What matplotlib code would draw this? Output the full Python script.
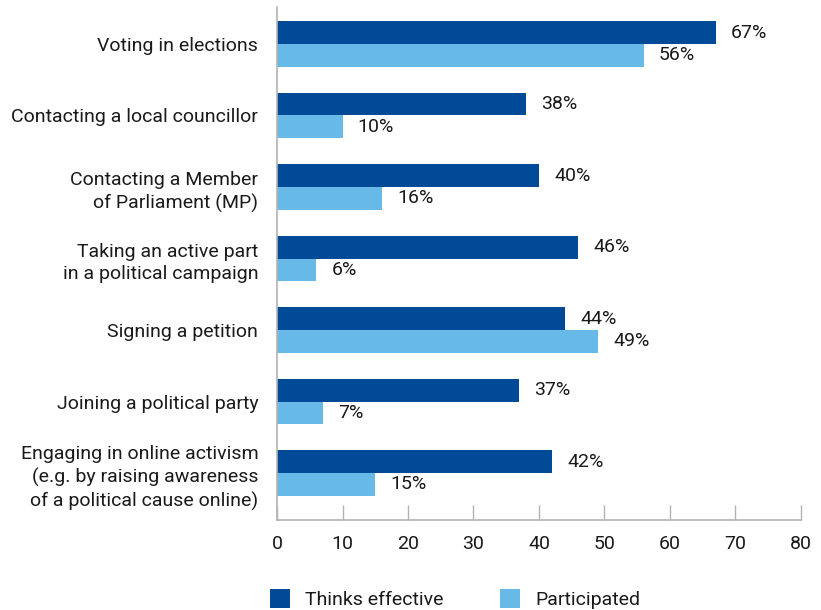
import matplotlib.pyplot as plt
import numpy as np

plt.rcParams['font.family'] = ['Roboto', 'DejaVu Sans']

activities = ["Voting in elections",
              "Contacting a local councillor",
              "Contacting a Member\nof Parliament (MP)",
              "Taking an active part\nin a political campaign",
              "Signing a petition",
              "Joining a political party",
              "Engaging in online activism\n(e.g. by raising awareness\nof a political cause online)"]
thinks_effective = [67, 38, 40, 46, 44, 37, 42]
participated = [56, 10, 16, 6, 49, 7, 15]

dark = '#004a98'
light = '#67b9e8'
grey = '#b3b3b3'
txt = '#1a1a1a'

fig = plt.figure(figsize=(8.21, 6.10), dpi=100)
ax = fig.add_axes([0.3374, 0.1475, 0.6382, 0.841])

y = np.arange(len(activities))
h = 0.32
b1 = ax.barh(y - h / 2, thinks_effective, height=h, color=dark, label='Thinks effective')
b2 = ax.barh(y + h / 2, participated, height=h, color=light, label='Participated')

# percentage labels to the right of each bar
for bars, vals in ((b1, thinks_effective), (b2, participated)):
    for bar, v in zip(bars, vals):
        ax.annotate(f'{v}%', (v, bar.get_y() + bar.get_height() / 2),
                    xytext=(11, 0), textcoords='offset points',
                    va='center', ha='left', fontsize=14, color=txt)

ax.set_xlim(0, 80)
ax.set_ylim(len(activities) - 1 + 0.657, -0.517)
ax.set_xticks(range(0, 81, 10))
ax.set_yticks(y)
ax.set_yticklabels(activities, fontsize=14, color=txt, linespacing=1.32)
ax.tick_params(axis='y', length=0, pad=13.5)
ax.tick_params(axis='x', direction='in', length=11, color=grey, width=1,
               labelsize=14, labelcolor=txt, pad=11)

for s in ('top', 'right'):
    ax.spines[s].set_visible(False)
for s in ('left', 'bottom'):
    ax.spines[s].set_color(grey)
    ax.spines[s].set_linewidth(1.2)

fig.legend(loc='lower left', bbox_to_anchor=(0.308, -0.027), ncol=2, frameon=False,
           fontsize=14, handlelength=1.03, handleheight=1.15, handletextpad=0.77,
           columnspacing=2.9, labelcolor=txt)

fig.savefig('out.png', dpi=100)
